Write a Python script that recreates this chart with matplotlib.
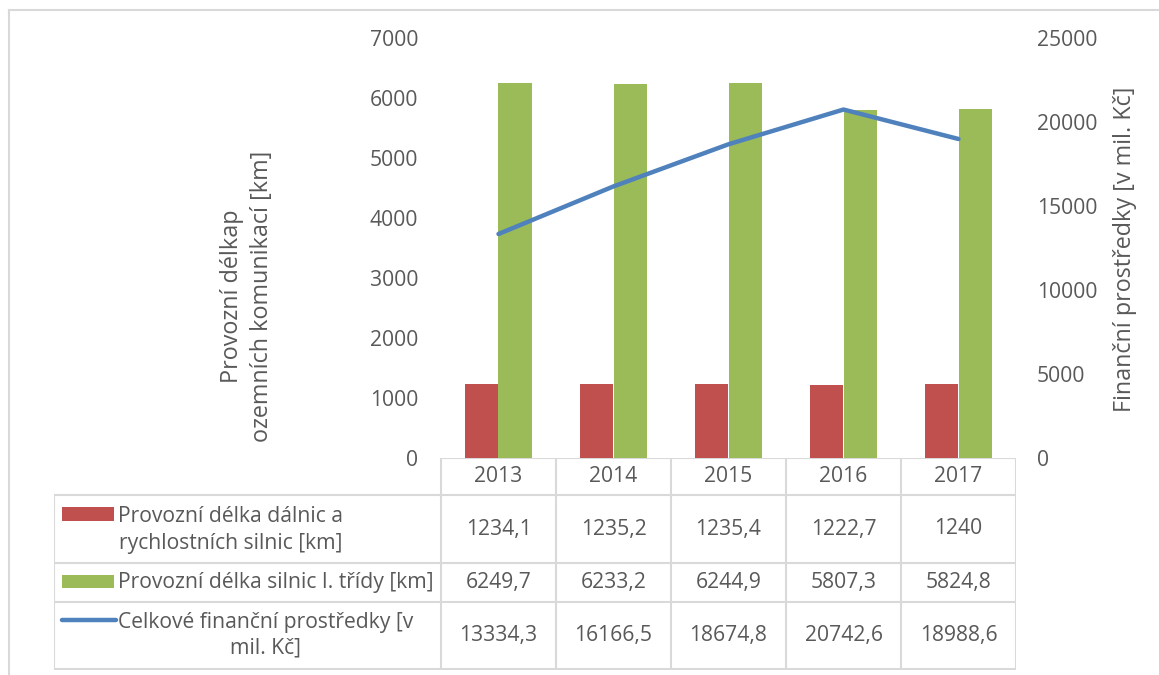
import numpy as np
import matplotlib; matplotlib.use("Agg")
import matplotlib.pyplot as plt
from matplotlib.lines import Line2D

years = ["2013", "2014", "2015", "2016", "2017"]
dalnice = [1234.1, 1235.2, 1235.4, 1222.7, 1240.0]
silnice_I = [6249.7, 6233.2, 6244.9, 5807.3, 5824.8]
financni = [13334.3, 16166.5, 18674.8, 20742.6, 18988.6]
row_labels = ["Provozní délka dálnic a\nrychlostních silnic [km]",
              "Provozní délka silnic I. třídy [km]",
              "Celkové finanční prostředky [v\nmil. Kč]"]

RED, GREEN, BLUE = "#C0504D", "#9BBB59", "#4F81BD"
TXT, GRID = "#595959", "#D9D9D9"
W, H = 1159, 675
plt.rcParams["font.family"] = ["Open Sans", "DejaVu Sans"]
FS = 15.2      # ticks + table
FT = 16.8      # axis titles


def px(x0, y0, x1, y1):
    # pixel box (top-left origin) -> figure fraction rect
    return [x0 / W, 1 - y1 / H, (x1 - x0) / W, (y1 - y0) / H]


fig = plt.figure(figsize=(W / 100, H / 100), dpi=100)
# outer chart border (top + left visible)
fig.add_artist(Line2D([9 / W, 9 / W], [0, 1 - 10 / H], transform=fig.transFigure, color=GRID, lw=1.5))
fig.add_artist(Line2D([9 / W, 1], [1 - 10 / H, 1 - 10 / H], transform=fig.transFigure, color=GRID, lw=1.5))

ax = fig.add_axes(px(441, 38, 1016, 458))
x = np.arange(len(years))
bw = 0.287
ax.bar(x - bw / 2, dalnice, bw, color=RED, zorder=2)
ax.bar(x + bw / 2, silnice_I, bw, color=GREEN, zorder=2)
ax.set_xlim(-0.5, len(years) - 0.5)
ax.set_ylim(0, 7000)
ax.set_yticks(np.arange(0, 7001, 1000))
ax.set_xticks([])
for s in ["top", "right", "left", "bottom"]:
    ax.spines[s].set_visible(False)
ax.tick_params(axis="y", length=0, pad=16.5, labelsize=FS, labelcolor=TXT)

ax2 = ax.twinx()
ax2.plot(x, financni, color=BLUE, lw=3.2, solid_capstyle="round", zorder=3)
ax2.set_ylim(0, 25000)
ax2.set_yticks(np.arange(0, 25001, 5000))
for s in ["top", "right", "left", "bottom"]:
    ax2.spines[s].set_visible(False)
ax2.tick_params(axis="y", length=0, pad=15, labelsize=FS, labelcolor=TXT)

fig.text(247 / W, 1 - 296 / H, "Provozní délkap\nozemních komunikací [km]", rotation=90,
         ha="center", va="center", multialignment="center", fontsize=FT, color=TXT,
         linespacing=1.3)
fig.text(1125 / W, 1 - 249 / H, "Finanční prostředky [v mil. Kč]", rotation=90,
         ha="center", va="center", fontsize=FT, color=TXT)

# data table below the plot
tb = fig.add_axes(px(54, 458, 1016, 670))
left = -0.5 - (441 - 54) / 115
tb.set_xlim(left, len(years) - 0.5)
tb.set_ylim(670, 458)
tb.axis("off")
rows = [458, 495, 563, 602, 669]
kw = dict(color=GRID, lw=1.5, solid_capstyle="butt")
tb.plot([-0.5, len(years) - 0.5], [rows[0]] * 2, **kw)
for r in rows[1:]:
    tb.plot([left, len(years) - 0.5], [r, r], **kw)
for b in np.arange(-0.5, len(years), 1.0):
    tb.plot([b, b], [rows[0], rows[-1]], **kw)
tb.plot([left, left], [rows[1], rows[-1]], **kw)

for i, y in enumerate(years):
    tb.text(i, (rows[0] + rows[1]) / 2, y, ha="center", va="center", fontsize=FS, color=TXT)
for j, vals in enumerate([dalnice, silnice_I, financni]):
    yc = (rows[j + 1] + rows[j + 2]) / 2
    for i, v in enumerate(vals):
        tb.text(i, yc, f"{v:g}".replace(".", ","), ha="center", va="center", fontsize=FS, color=TXT)

# row labels with legend keys
key0, key1 = left + 8 / 115, left + 60 / 115
txt_x = left + 64 / 115
tb.text(txt_x, (rows[1] + rows[2]) / 2 + 1, row_labels[0], ha="left", va="center",
        multialignment="center", fontsize=FS, color=TXT, linespacing=1.35)
tb.text(txt_x, (rows[2] + rows[3]) / 2, row_labels[1], ha="left", va="center",
        fontsize=FS, color=TXT)
tb.text(txt_x, (rows[3] + rows[4]) / 2, row_labels[2], ha="left", va="center",
        multialignment="center", fontsize=FS, color=TXT, linespacing=1.3)
tb.fill_between([key0, key1], 507, 521, color=RED, lw=0)
tb.fill_between([key0, key1], 575, 588, color=GREEN, lw=0)
tb.plot([key0, key1 + 2 / 115], [620, 620], color=BLUE, lw=3.2, solid_capstyle="round")

fig.savefig("out.png", dpi=100)
